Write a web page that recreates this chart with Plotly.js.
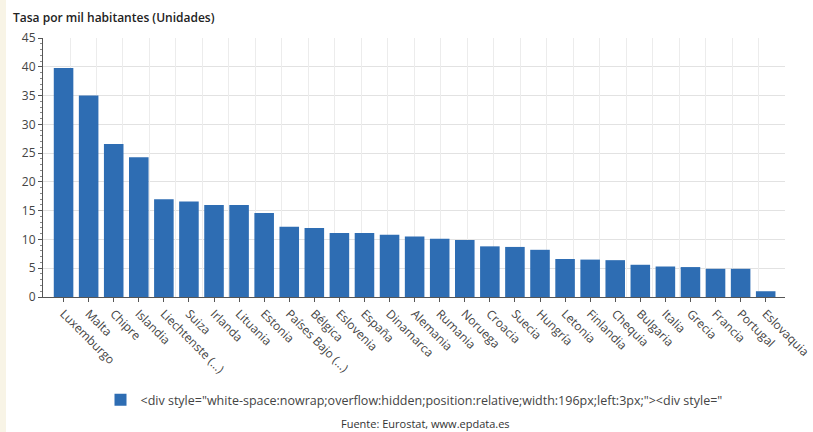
<!DOCTYPE html>
<html>
<head>
<meta charset="utf-8">
<script src="https://cdn.plot.ly/plotly-3.0.1.min.js"></script>
<style>
  html, body { margin: 0; padding: 0; background: #ffffff; }
  #chart { width: 813px; height: 432px; }
</style>
</head>
<body>
<div id="chart"></div>
<script>
const categories = ["Luxemburgo","Malta","Chipre","Islandia","Liechtenste (...)","Suiza","Irlanda","Lituania","Estonia","Países Bajo (...)","Bélgica","Eslovenia","España","Dinamarca","Alemania","Rumania","Noruega","Croacia","Suecia","Hungría","Letonia","Finlandia","Chequia","Bulgaria","Italia","Grecia","Francia","Portugal","Eslovaquia"];
const values = [39.8, 35.0, 26.6, 24.3, 17.0, 16.6, 16.0, 16.0, 14.6, 12.2, 12.0, 11.1, 11.1, 10.8, 10.5, 10.1, 9.9, 8.8, 8.7, 8.2, 6.6, 6.5, 6.4, 5.6, 5.3, 5.2, 4.9, 4.9, 1.0];
const yTicks = [0, 5, 10, 15, 20, 25, 30, 35, 40, 45];
const seriesName = '&lt;div style="white-space:nowrap;overflow:hidden;position:relative;width:196px;left:3px;"&gt;&lt;div style="';
const yTitle = "Tasa por mil habitantes (Unidades)";
const sourceText = "Fuente: Eurostat, www.epdata.es";

const W = 813, H = 432;
const mL = 43, mR = 28, mT = 38, mB = 135;
const pw = W - mL - mR, ph = H - mT - mB;
const px = v => (v - mL) / pw;
const py = v => (H - mB - v) / ph;

const font = "Open Sans, Noto Sans, DejaVu Sans, sans-serif";

const data = [
  {
    type: "bar",
    x: categories,
    y: values,
    name: seriesName,
    marker: { color: "#2e6db3" },
    showlegend: true,
    hoverinfo: "x+y"
  },
  {
    type: "scatter",
    x: [],
    y: [],
    xaxis: "x2",
    showlegend: false,
    hoverinfo: "skip"
  }
];

const layout = {
  width: W,
  height: H,
  margin: { l: mL, r: mR, t: mT, b: mB, pad: 0 },
  paper_bgcolor: "#ffffff",
  plot_bgcolor: "#ffffff",
  bargap: 0.22,
  font: { family: font, size: 12, color: "#444" },
  xaxis: {
    type: "category",
    range: [-0.82, 28.77],
    tickangle: 45,
    tickfont: { size: 12, color: "#444" },
    ticks: "outside",
    ticklen: 4,
    tickcolor: "#555",
    showline: true,
    linecolor: "#555",
    linewidth: 1,
    showgrid: false,
    zeroline: false,
    fixedrange: true
  },
  xaxis2: {
    overlaying: "x",
    type: "linear",
    range: [0, pw],
    tick0: 27,
    dtick: 26.48,
    showticklabels: false,
    ticks: "",
    showgrid: true,
    gridcolor: "#ececec",
    gridwidth: 1,
    zeroline: false,
    showline: false,
    side: "bottom"
  },
  yaxis: {
    range: [0, 45],
    tickvals: yTicks,
    ticktext: yTicks.map(String),
    tickfont: { size: 12, color: "#444" },
    ticks: "outside",
    ticklen: 4,
    tickcolor: "#555",
    showline: true,
    linecolor: "#555",
    linewidth: 1,
    showgrid: true,
    gridcolor: "#e2e2e2",
    zeroline: false,
    minor: { dtick: 1, ticklen: 2, tickcolor: "#888", ticks: "outside", showgrid: false },
    fixedrange: true
  },
  legend: {
    orientation: "h",
    x: px(414),
    xanchor: "center",
    y: py(400),
    yanchor: "middle",
    font: { size: 12.5, color: "#444", family: font },
    bgcolor: "rgba(0,0,0,0)",
    itemwidth: 30
  },
  annotations: [
    {
      text: yTitle,
      xref: "paper", yref: "paper",
      x: px(11), y: py(18),
      xanchor: "left", yanchor: "middle",
      showarrow: false,
      font: { size: 12, color: "#222", family: font, weight: 600 }
    },
    {
      text: sourceText,
      xref: "paper", yref: "paper",
      x: px(425), y: py(423),
      xanchor: "center", yanchor: "middle",
      showarrow: false,
      font: { size: 11, color: "#333", family: font }
    }
  ],
  shapes: [
    {
      type: "rect", xref: "paper", yref: "paper",
      x0: px(0), x1: px(6), y0: py(H), y1: py(0),
      fillcolor: "#f8f4e6", line: { width: 0 }, layer: "below"
    }
  ]
};

Plotly.newPlot("chart", data, layout, { displayModeBar: false, staticPlot: true });
</script>
</body>
</html>
